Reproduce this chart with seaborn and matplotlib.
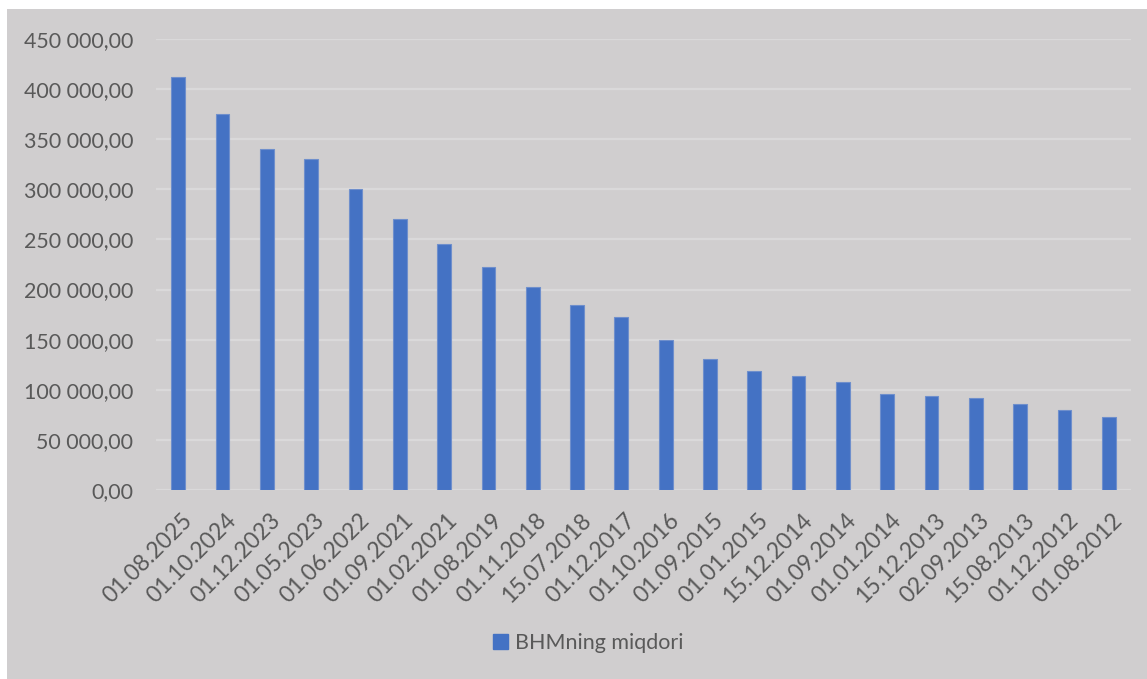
import matplotlib
matplotlib.use("Agg")
import matplotlib.pyplot as plt
import matplotlib.patches as mpatches
import matplotlib.transforms as mtransforms
from matplotlib.ticker import FuncFormatter
import pandas as pd
import seaborn as sns

# dates (newest first) and BHM amounts
dates = ["01.08.2025", "01.10.2024", "01.12.2023", "01.05.2023", "01.06.2022",
         "01.09.2021", "01.02.2021", "01.08.2019", "01.11.2018", "15.07.2018",
         "01.12.2017", "01.10.2016", "01.09.2015", "01.01.2015", "15.12.2014",
         "01.09.2014", "01.01.2014", "15.12.2013", "02.09.2013", "15.08.2013",
         "01.12.2012", "01.08.2012"]
amounts = [412000, 375000, 340000, 330000, 300000,
           270000, 245000, 223000, 202730, 184300,
           172240, 149775, 130240, 118400, 113500,
           107635, 96105, 94000, 91500, 85990,
           79590, 72355]
series_name = "BHMning miqdori"

df = pd.DataFrame({"sana": dates, "miqdor": amounts})

bg = "#d0cecf"
bar_color = "#4472c4"
text_color = "#595959"

sns.set_theme(style="white")
plt.rcParams["font.family"] = ["Lato", "DejaVu Sans"]

fig = plt.figure(figsize=(11.47, 6.79), dpi=100, facecolor="white")
# grey chart area (thin white strip at the top and left in the original)
fig.patches.append(mpatches.Rectangle((7 / 1147, 0), 1 - 7 / 1147, 1 - 9 / 679,
                                      transform=fig.transFigure, facecolor=bg,
                                      edgecolor="none", zorder=-10))

ax = fig.add_axes([156 / 1147, 1 - 490 / 679, (1131 - 156) / 1147, (490 - 39) / 679])
ax.set_facecolor(bg)

sns.barplot(data=df, x="sana", y="miqdor", color=bar_color, width=0.31,
            saturation=1, edgecolor="#6f8fcc", linewidth=0.8, ax=ax, zorder=3)

ax.set_ylim(0, 450000)
ax.set_yticks(range(0, 450001, 50000))
ax.yaxis.set_major_formatter(FuncFormatter(
    lambda v, p: f"{v:,.2f}".replace(",", " ").replace(".", ",")))
ax.grid(axis="y", color="#dad9da", linewidth=1.6, zorder=0)
ax.set_axisbelow(True)

for s in ax.spines.values():
    s.set_visible(False)

ax.set_xlabel("")
ax.set_ylabel("")
ax.tick_params(axis="both", length=0, colors=text_color)
ax.tick_params(axis="y", labelsize=15.4, pad=16.5)
ax.tick_params(axis="x", labelsize=16.5, pad=14)
shift = mtransforms.ScaledTranslation(3 / 100, 0, fig.dpi_scale_trans)
for lbl in ax.get_xticklabels():
    lbl.set_rotation(45)
    lbl.set_ha("right")
    lbl.set_rotation_mode("anchor")
    lbl.set_transform(lbl.get_transform() + shift)

handle = mpatches.Patch(color=bar_color, label=series_name)
fig.legend(handles=[handle], loc="center", bbox_to_anchor=(588 / 1147, 1 - 643 / 679),
           frameon=False, fontsize=15.5, labelcolor=text_color,
           handlelength=0.7, handleheight=0.7, handletextpad=0.3)

fig.savefig("out.png", dpi=100, facecolor="white")
